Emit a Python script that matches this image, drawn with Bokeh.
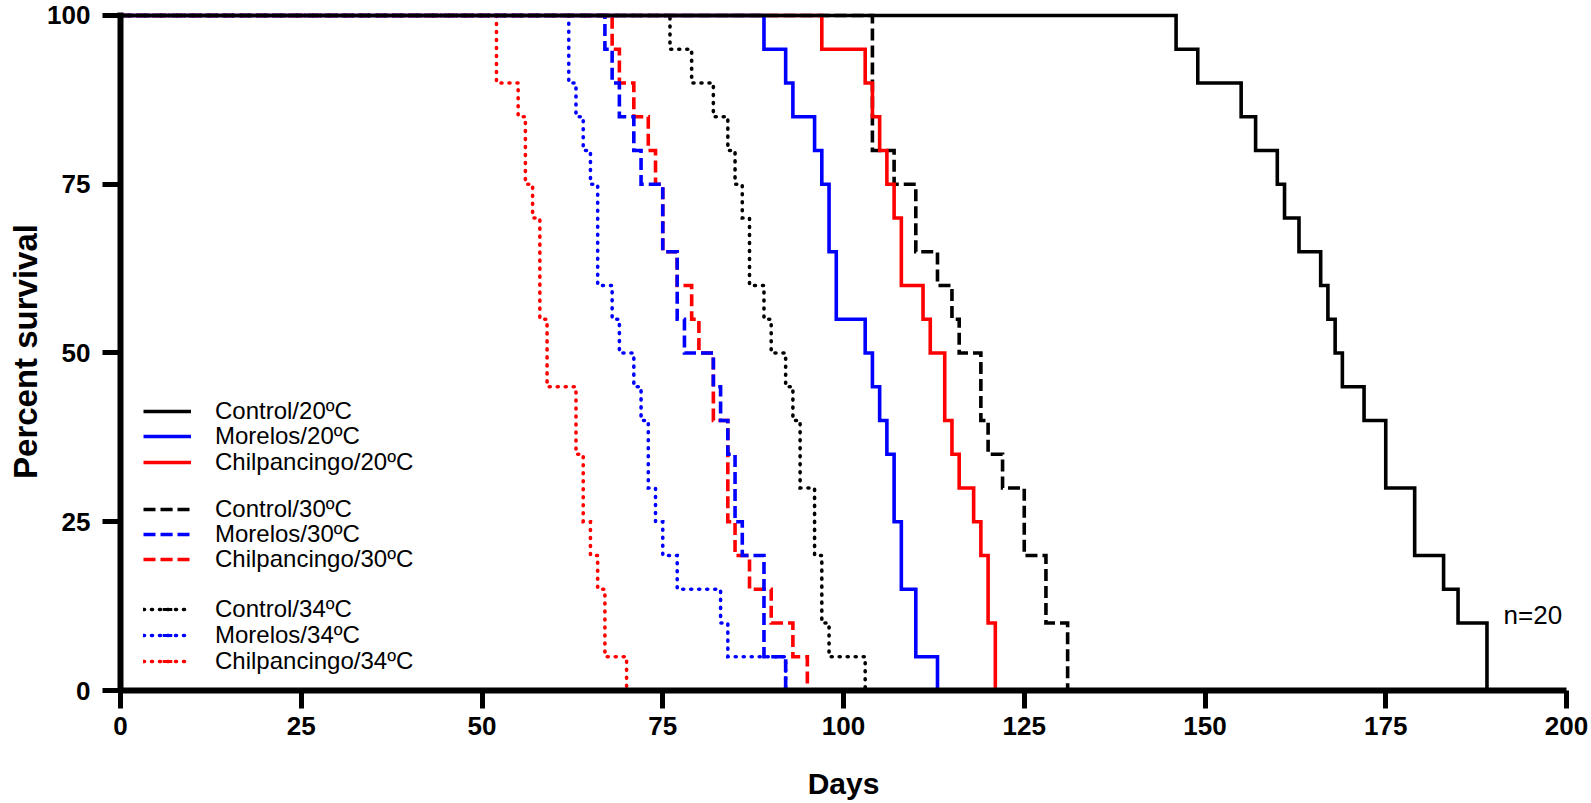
import math
from collections import Counter

from bokeh.plotting import figure
from bokeh.models import (Range1d, FixedTicker, Legend, LegendItem, Label,
                          ColumnDataSource)
from bokeh.embed import file_html
from bokeh.resources import INLINE

# ---------------- data (death day of each of the 20 animals per group) -------------
N_PER_GROUP = 20

control_20 = [146, 149, 155, 157, 160, 161, 163, 166, 167, 168, 169, 172, 175, 175,
              179, 179, 183, 185, 189, 189]
morelos_20 = [89, 92, 93, 96, 97, 98, 98, 99, 99, 103, 104, 105, 106, 107, 107, 108,
              108, 110, 110, 113]
chilpancingo_20 = [97, 103, 104, 105, 106, 107, 108, 108, 111, 112, 114, 114, 115, 116,
                   118, 119, 120, 120, 121, 121]

control_30 = [104, 104, 104, 104, 107, 110, 110, 113, 115, 116, 119, 119, 120, 122,
              125, 125, 128, 128, 131, 131]
morelos_30 = [67, 68, 69, 71, 72, 75, 75, 77, 77, 78, 82, 83, 84, 85, 85, 86, 89, 89,
              89, 92]
chilpancingo_30 = [68, 69, 71, 73, 74, 75, 75, 77, 79, 80, 82, 82, 84, 84, 84, 85, 87,
                   90, 93, 95]

control_34 = [76, 79, 82, 84, 85, 86, 87, 87, 89, 90, 92, 93, 94, 94, 96, 96, 97, 97,
              98, 103]
morelos_34 = [62, 62, 63, 64, 65, 66, 66, 66, 68, 69, 71, 72, 73, 73, 74, 75, 77, 83,
              84, 92]
chilpancingo_34 = [52, 52, 55, 56, 56, 57, 58, 58, 58, 59, 59, 63, 63, 64, 64, 65, 66,
                   67, 67, 70]

series_labels = ["Control/20ºC", "Morelos/20ºC", "Chilpancingo/20ºC",
                 "Control/30ºC", "Morelos/30ºC", "Chilpancingo/30ºC",
                 "Control/34ºC", "Morelos/34ºC", "Chilpancingo/34ºC"]
series_data = [control_20, morelos_20, chilpancingo_20,
               control_30, morelos_30, chilpancingo_30,
               control_34, morelos_34, chilpancingo_34]

x_ticks = [0, 25, 50, 75, 100, 125, 150, 175, 200]
y_ticks = [0, 25, 50, 75, 100]
x_title = "Days"
y_title = "Percent survival"
n_label = "n=20"

# ---------------- styles ----------------
FONT = "Liberation Sans"
colors = ["#000000", "#0000FF", "#FF0000"] * 3
dashes = ["solid"] * 3 + ["12 5"] * 3 + ["1 7"] * 3
caps = ["butt"] * 3 + ["butt"] * 3 + ["round"] * 3


def km_steps(days, n):
    xs, ys = [0.0], [100.0]
    alive = n
    cnt = Counter(days)
    for d in sorted(cnt):
        before = 100.0 * alive / n
        alive -= cnt[d]
        after = 100.0 * alive / n
        xs += [d, d]
        ys += [before, after]
    return xs, ys


p = figure(width=1591, height=803, output_backend="svg", toolbar_location=None,
           x_range=Range1d(0, 200), y_range=Range1d(0, 100.44),
           min_border_left=120, min_border_right=25, min_border_top=12,
           min_border_bottom=113)
p.outline_line_color = None
p.grid.visible = False
p.background_fill_color = "white"
p.border_fill_color = "white"

for ax, ticks in ((p.xaxis, x_ticks), (p.yaxis, y_ticks)):
    ax.ticker = FixedTicker(ticks=ticks)
    ax.axis_line_width = 6
    ax.axis_line_color = "black"
    ax.major_tick_line_width = 5
    ax.major_tick_line_color = "black"
    ax.major_tick_out = 18
    ax.major_tick_in = 0
    ax.minor_tick_line_color = None
    ax.major_label_text_font = FONT
    ax.major_label_text_font_style = "bold"
    ax.major_label_text_font_size = "26px"
    ax.major_label_text_color = "black"
    ax.axis_label_text_font = FONT
    ax.axis_label_text_font_style = "bold"
    ax.axis_label_text_color = "black"

p.xaxis.major_label_standoff = 8
p.xaxis.axis_label = x_title
p.xaxis.axis_label_text_font_size = "30px"
p.xaxis.axis_label_standoff = 29

p.yaxis.major_label_standoff = 12
p.yaxis.axis_label = y_title
p.yaxis.axis_label_text_font_size = "33px"
p.yaxis.axis_label_standoff = 0

# draw order: 34 group first, then 30, then 20; red, blue, black within group
renderers = {}
tick_renderers = {}
order = [8, 7, 6, 5, 4, 3, 2, 1, 0]
for i in order:
    xs, ys = km_steps(series_data[i], N_PER_GROUP)
    src = ColumnDataSource(dict(x=xs, y=ys))
    r = p.line("x", "y", source=src, line_color=colors[i], line_width=3.6,
               line_dash=dashes[i], line_cap=caps[i], line_join="miter")
    renderers[i] = r
    # zero-size marker: invisible on the plot, only gives the legend its tick
    t = p.scatter("x", "y", source=src, marker="dash", angle=math.pi / 2, size=0,
                  line_color=colors[i], line_width=3, line_cap="butt")
    tick_renderers[i] = t

# legend (one legend box per item so rows can be placed like the original)
row_centers = [410, 435.3, 460.7, 508, 532.5, 558, 608, 634, 660]
frame_bottom = 690
for i in range(9):
    item = LegendItem(label=series_labels[i],
                      renderers=[renderers[i], tick_renderers[i]])
    vy = frame_bottom - row_centers[i] - 15
    leg = Legend(items=[item], location=(23, vy), glyph_width=48, glyph_height=24,
                 label_standoff=24, padding=0, margin=0, spacing=0,
                 border_line_color=None, background_fill_alpha=0,
                 label_text_font=FONT, label_text_font_size="24px",
                 label_text_color="black", label_height=20)
    p.add_layout(leg)

p.add_layout(Label(x=191.3, y=11.2, text=n_label, text_font=FONT,
                   text_font_size="26px", text_color="black",
                   text_baseline="alphabetic"))

open("out.html", "w").write(file_html(p, INLINE))
